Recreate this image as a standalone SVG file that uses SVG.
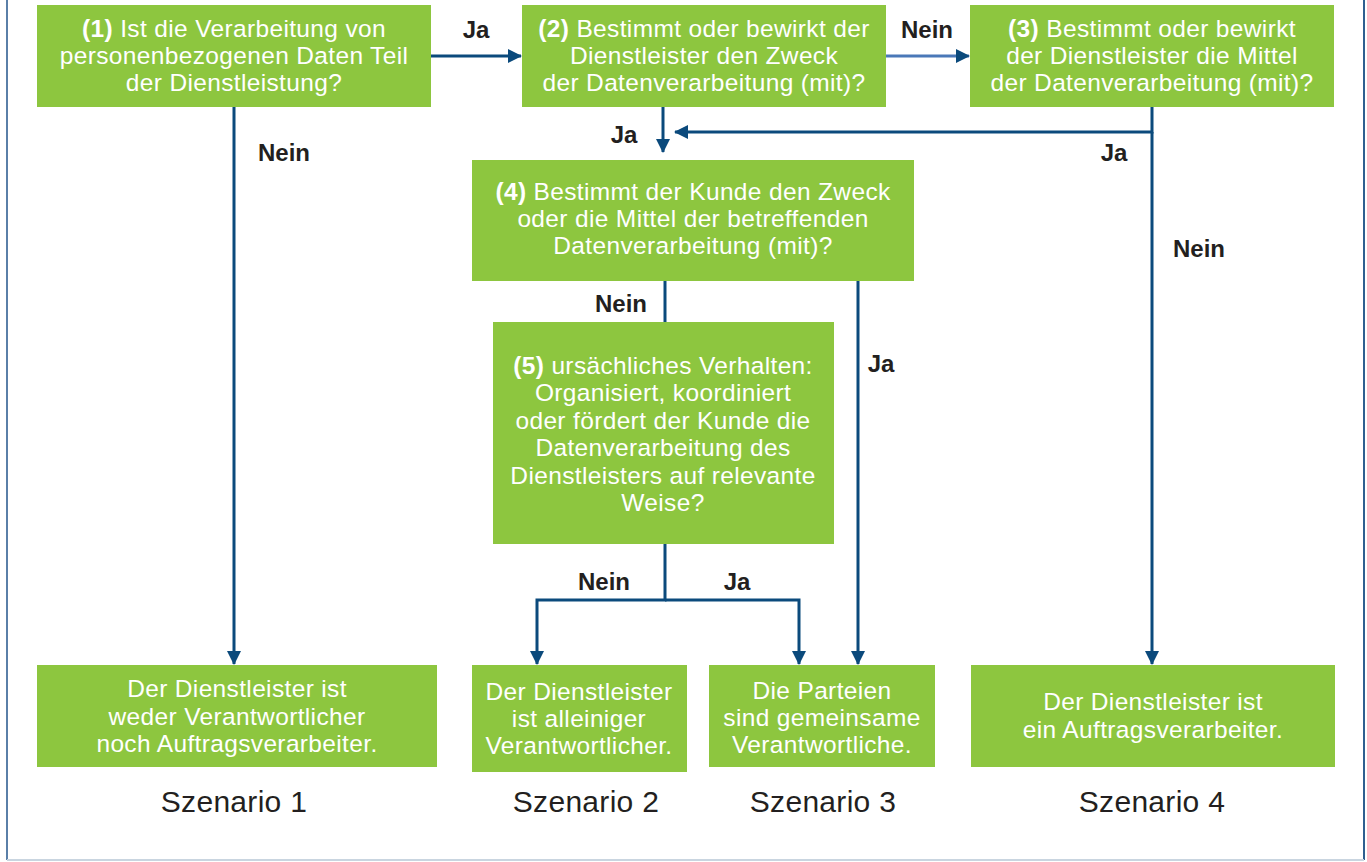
<svg xmlns="http://www.w3.org/2000/svg" width="1367" height="862" viewBox="0 0 1367 862">
<style>
.box{fill:#8dc63f}
.t{font-family:"Liberation Sans",Arial,sans-serif;font-size:24.5px;letter-spacing:0.35px;fill:#fff;text-anchor:middle}
.b{font-weight:bold}
.lbl{font-family:"Liberation Sans",Arial,sans-serif;font-size:24px;font-weight:bold;fill:#231f20;text-anchor:middle}
.sz{font-family:"Liberation Sans",Arial,sans-serif;font-size:30px;letter-spacing:0.3px;fill:#231f20;text-anchor:middle}
.c{fill:none;stroke:#0b4a7c;stroke-width:3}
.c2{fill:none;stroke:#4a78b8;stroke-width:3}
</style>
<defs>
<marker id="ah" markerUnits="userSpaceOnUse" markerWidth="14" markerHeight="14" refX="13" refY="7" orient="auto">
<path d="M0,0 L14,7 L0,14 Z" fill="#0b4a7c"/>
</marker>
</defs>
<rect x="0" y="0" width="1367" height="862" fill="#fff"/>
<g id="frame">
<line x1="7" y1="0" x2="7" y2="860" stroke="#5a7fa8" stroke-width="2"/>
<line x1="1364" y1="0" x2="1364" y2="860" stroke="#2f5f90" stroke-width="2"/>
<line x1="7" y1="860" x2="1364" y2="860" stroke="#c9d5e0" stroke-width="2"/>
</g>
<g id="connectors">
<path class="c" d="M431,56 H521" marker-end="url(#ah)"/>
<path class="c2" d="M886,56 H969" marker-end="url(#ah)"/>
<path class="c" d="M234,107 V664" marker-end="url(#ah)"/>
<path class="c" d="M663,107 V152" marker-end="url(#ah)"/>
<path class="c" d="M1152,107 V132 H675" marker-end="url(#ah)"/>
<path class="c" d="M1152,132 V664" marker-end="url(#ah)"/>
<path class="c" d="M665,281 V322"/>
<path class="c" d="M858,281 V664" marker-end="url(#ah)"/>
<path class="c" d="M665,544 V600 H537 V664" marker-end="url(#ah)"/>
<path class="c" d="M665,600 H799 V664" marker-end="url(#ah)"/>
<text class="lbl" x="476" y="38">Ja</text>
<text class="lbl" x="927" y="38">Nein</text>
<text class="lbl" x="624" y="143">Ja</text>
<text class="lbl" x="1114" y="161">Ja</text>
<text class="lbl" x="284" y="161">Nein</text>
<text class="lbl" x="1199" y="257">Nein</text>
<text class="lbl" x="621" y="312">Nein</text>
<text class="lbl" x="881" y="372">Ja</text>
<text class="lbl" x="604" y="590">Nein</text>
<text class="lbl" x="737" y="590">Ja</text>
</g>
<g id="n1">
<rect class="box" x="37" y="5" width="394" height="102"/>
<text class="t" x="234" y="37"><tspan class="b">(1)</tspan> Ist die Verarbeitung von</text>
<text class="t" x="234" y="64">personenbezogenen Daten Teil</text>
<text class="t" x="234" y="91">der Dienstleistung?</text>
</g>
<g id="n2">
<rect class="box" x="522" y="5" width="364" height="102"/>
<text class="t" x="704" y="37"><tspan class="b">(2)</tspan> Bestimmt oder bewirkt der</text>
<text class="t" x="704" y="64">Dienstleister den Zweck</text>
<text class="t" x="704" y="91">der Datenverarbeitung (mit)?</text>
</g>
<g id="n3">
<rect class="box" x="970" y="5" width="364" height="102"/>
<text class="t" x="1152" y="37"><tspan class="b">(3)</tspan> Bestimmt oder bewirkt</text>
<text class="t" x="1152" y="64">der Dienstleister die Mittel</text>
<text class="t" x="1152" y="91">der Datenverarbeitung (mit)?</text>
</g>
<g id="n4">
<rect class="box" x="472" y="160" width="442" height="121"/>
<text class="t" x="693" y="200"><tspan class="b">(4)</tspan> Bestimmt der Kunde den Zweck</text>
<text class="t" x="693" y="227">oder die Mittel der betreffenden</text>
<text class="t" x="693" y="254">Datenverarbeitung (mit)?</text>
</g>
<g id="n5">
<rect class="box" x="493" y="322" width="341" height="222"/>
<text class="t" x="663" y="374"><tspan class="b">(5)</tspan> ursächliches Verhalten:</text>
<text class="t" x="663" y="401">Organisiert, koordiniert</text>
<text class="t" x="663" y="429">oder fördert der Kunde die</text>
<text class="t" x="663" y="456">Datenverarbeitung des</text>
<text class="t" x="663" y="484">Dienstleisters auf relevante</text>
<text class="t" x="663" y="511">Weise?</text>
</g>
<g id="s1">
<rect class="box" x="37" y="665" width="400" height="102"/>
<text class="t" x="237" y="697">Der Dienstleister ist</text>
<text class="t" x="237" y="725">weder Verantwortlicher</text>
<text class="t" x="237" y="752">noch Auftragsverarbeiter.</text>
<text class="sz" x="234" y="812">Szenario 1</text>
</g>
<g id="s2">
<rect class="box" x="472" y="665" width="215" height="107"/>
<text class="t" x="579" y="700">Der Dienstleister</text>
<text class="t" x="579" y="727">ist alleiniger</text>
<text class="t" x="579" y="754">Verantwortlicher.</text>
<text class="sz" x="586" y="812">Szenario 2</text>
</g>
<g id="s3">
<rect class="box" x="709" y="665" width="226" height="102"/>
<text class="t" x="822" y="699">Die Parteien</text>
<text class="t" x="822" y="726">sind gemeinsame</text>
<text class="t" x="822" y="753">Verantwortliche.</text>
<text class="sz" x="823" y="812">Szenario 3</text>
</g>
<g id="s4">
<rect class="box" x="971" y="665" width="364" height="102"/>
<text class="t" x="1153" y="710">Der Dienstleister ist</text>
<text class="t" x="1153" y="738">ein Auftragsverarbeiter.</text>
<text class="sz" x="1152" y="812">Szenario 4</text>
</g>
</svg>
